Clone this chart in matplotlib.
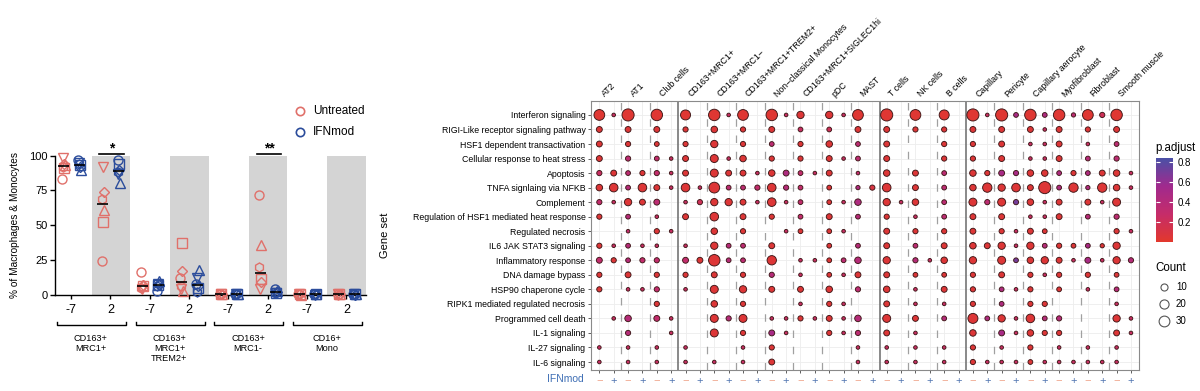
import numpy as np
import matplotlib
matplotlib.use("Agg")
import matplotlib.pyplot as plt
from matplotlib.colors import LinearSegmentedColormap, Normalize
from matplotlib.cm import ScalarMappable
from matplotlib.transforms import blended_transform_factory

plt.rcParams['font.family'] = ['Liberation Sans', 'DejaVu Sans']

W, H = 1200, 391

# ---------------- left panel data ----------------
populations = ["CD163+\nMRC1+", "CD163+\nMRC1+\nTREM2+", "CD163+\nMRC1-", "CD16+\nMono"]
days = ["-7", "2"]
donor_markers = ['o', 's', '^', 'v', 'D', 'h']
# rows: population x day (8), cols: donors
untreated = np.array([
    [83.5, 91, 93, 98, 94, 92],
    [24, 52, 61, 92, 74, 69],
    [16, 6, 7, 4, 7, 5],
    [12, 37, 3, 4, 17, 6],
    [0.5, 0.3, 0.2, 0.4, 0.6, 0.3],
    [72, 11, 36, 4, 9, 20],
    [0.3, 0.2, 0.1, 0.2, 0.3, 0.2],
    [0.3, 0.4, 0.2, 0.2, 0.3, 0.1],
])
ifnmod = np.array([
    [97, 93, 90, 95, 92, 94],
    [97, 94, 80, 87, 90, 88],
    [3, 7, 10, 8, 7, 6],
    [8, 5, 18, 12, 6, 2],
    [0.3, 0.2, 0.4, 0.3, 0.2, 0.3],
    [4, 1.5, 3, 1, 2, 1],
    [0.2, 0.3, 0.2, 0.1, 0.3, 0.2],
    [0.3, 0.2, 0.3, 0.2, 0.1, 0.2],
])
sig_positions = [1, 5]
sig_labels = ["*", "**"]

# ---------------- dot plot data ----------------
gene_sets = ["Interferon signaling", "RIGI-Like receptor signaling pathway",
             "HSF1 dependent transactivation", "Cellular response to heat stress",
             "Apoptosis", "TNFA signlaing via NFKB", "Complement",
             "Regulation of HSF1 mediated heat response", "Regulated necrosis",
             "IL6 JAK STAT3 signaling", "Inflammatory response", "DNA damage bypass",
             "HSP90 chaperone cycle", "RIPK1 mediated regulated necrosis",
             "Programmed cell death", "IL-1 signaling", "IL-27 signaling", "IL-6 signaling"]
cell_types = ["AT2", "AT1", "Club cells", "CD163+MRC1+", "CD163+MRC1\u2212",
              "CD163+MRC1+TREM2+", "Non\u2212classical Monocytes", "CD163+MRC1+SIGLEC1hi",
              "pDC", "MAST", "T cells", "NK cells", "B cells", "Capillary", "Pericyte",
              "Capillary aerocyte", "Myofibroblast", "Fibroblast", "Smooth muscle"]
ifn_labels = ["\u2212", "+"]

# columns: cell type x (untreated, IFNmod); 0 = no dot
counts = np.array([
    [30,1,40,0,35,0,25,0,35,1,30,0,35,1,11,0,11,1,30,0,40,0,30,0,25,0,40,1,40,3,35,3,35,2,30,4,35,0],
    [6,0,6,0,6,0,4,0,8,0,4,0,6,0,3,0,3,0,6,0,6,0,4,0,4,0,6,0,6,0,6,1,6,0,4,0,6,0],
    [6,0,4,0,3,0,4,0,11,0,4,0,3,0,4,0,8,0,3,0,6,0,0,0,4,0,4,0,6,0,1,1,6,0,1,0,3,0],
    [6,0,4,0,3,1,6,0,14,1,8,0,4,0,4,0,6,1,3,0,6,0,0,0,4,0,4,0,6,0,1,1,6,0,3,0,4,0],
    [4,6,3,4,4,1,6,0,14,6,6,1,8,6,3,1,6,0,1,0,8,0,6,0,3,0,8,4,6,4,8,8,3,4,3,6,8,1],
    [8,17,3,17,6,1,17,1,30,3,3,4,17,4,3,0,3,0,2,4,17,0,6,0,3,0,8,21,11,17,6,40,3,21,2,21,8,1],
    [4,1,11,6,6,0,1,4,11,11,6,1,17,1,3,0,3,1,8,0,11,1,8,0,3,0,14,4,14,4,8,1,6,0,6,1,14,0],
    [4,0,3,0,1,0,6,0,17,0,6,0,4,0,3,0,6,0,3,0,4,0,1,0,3,0,6,0,6,0,1,1,6,0,3,0,4,0],
    [0,0,1,0,4,1,0,0,8,0,4,0,0,1,3,0,3,1,0,0,6,0,4,0,4,0,6,0,4,1,6,3,0,0,0,0,4,1],
    [4,1,3,1,1,0,1,0,11,3,3,0,6,0,0,0,3,0,3,0,6,0,3,0,6,0,8,6,11,1,11,3,4,3,3,2,11,0],
    [6,4,3,4,4,0,6,6,35,3,3,0,21,0,1,1,3,3,8,0,11,0,4,1,8,0,11,0,14,3,8,11,6,1,6,1,11,4],
    [4,0,6,0,4,0,4,0,6,0,4,0,4,0,1,0,3,1,6,0,6,0,3,0,3,0,4,0,6,0,4,1,4,0,4,0,3,0],
    [4,0,1,1,4,0,1,0,14,0,11,0,6,0,6,0,8,0,4,0,8,0,1,0,6,0,4,0,3,1,4,0,3,0,1,0,3,0],
    [0,0,0,0,4,0,0,0,8,0,4,0,0,0,1,0,4,1,0,0,6,0,1,0,1,0,4,0,3,0,4,4,0,0,0,0,1,0],
    [0,1,8,0,6,1,0,0,14,4,14,0,1,1,4,1,6,1,8,0,14,0,6,0,3,0,25,3,11,1,17,3,4,0,0,0,11,1],
    [0,0,4,0,0,1,0,0,14,0,4,0,6,1,0,0,4,1,4,0,6,0,1,0,0,0,8,0,6,1,8,4,4,0,0,0,6,1],
    [1,0,1,0,1,0,1,0,0,0,1,0,4,0,0,0,0,0,1,0,1,0,1,0,1,0,4,0,1,0,4,0,1,0,1,0,1,0],
    [1,0,1,0,1,0,1,0,1,0,1,0,6,0,0,0,0,0,1,0,1,0,1,0,1,0,4,1,1,1,3,1,1,1,1,1,1,0],
])
padj = np.array([
    [.03,.25,.03,0,.03,0,.03,0,.03,.25,.03,0,.03,.25,.05,0,.05,.25,.03,0,.03,0,.03,0,.03,0,.03,.25,.03,.5,.03,.45,.03,.35,.03,.2,.03,0],
    [.05,0,.05,0,.05,0,.05,0,.05,0,.05,0,.05,0,.25,0,.2,0,.05,0,.05,0,.05,0,.05,0,.05,0,.05,0,.05,.25,.05,0,.05,0,.05,0],
    [.05,0,.05,0,.05,0,.05,0,.05,0,.05,0,.35,0,.05,0,.05,0,.35,0,.05,0,0,0,.05,0,.05,0,.05,0,.25,.25,.05,0,.25,0,.35,0],
    [.05,0,.35,0,.3,.25,.05,0,.05,.25,.05,0,.05,0,.05,0,.05,.25,.35,0,.05,0,0,0,.05,0,.05,0,.05,0,.25,.25,.05,0,.4,0,.35,0],
    [.25,.05,.35,.05,.3,.25,.05,0,.05,.05,.05,.25,.05,.45,.3,.25,.05,0,.3,0,.05,0,.05,0,.35,0,.05,.05,.5,.5,.05,.05,.45,.05,.45,.05,.05,.25],
    [.05,.05,.4,.05,.05,.25,.05,.25,.05,.35,.35,.3,.05,.4,.3,0,.05,0,.45,.1,.05,0,.05,0,.35,0,.05,.05,.05,.05,.05,.05,.45,.05,.45,.05,.05,.25],
    [.3,.25,.05,.05,.35,0,.25,.2,.05,.05,.05,.25,.05,.25,.3,0,.05,.25,.45,0,.05,.25,.05,0,.35,0,.05,.35,.05,.7,.05,.25,.05,0,.05,.25,.05,0],
    [.05,0,.4,0,.25,0,.05,0,.05,0,.05,0,.05,0,.3,0,.05,0,.4,0,.05,0,.25,0,.35,0,.05,0,.05,0,.25,.25,.05,0,.4,0,.35,0],
    [0,0,.3,0,.05,.25,0,0,.05,0,.05,0,0,.25,.05,0,.05,.25,0,0,.05,0,.05,0,.05,0,.05,0,.05,.25,.05,.05,0,0,0,0,.05,.25],
    [.05,.25,.4,.25,.25,0,.25,0,.05,.4,.35,0,.05,0,0,0,.05,0,.4,0,.05,0,.35,0,.05,0,.05,.05,.05,.25,.05,.4,.05,.05,.5,.05,.05,0],
    [.3,.05,.4,.3,.3,0,.3,.05,.05,.4,.35,0,.05,0,.25,.25,.05,.35,.4,0,.05,0,.4,.25,.05,0,.05,0,.05,.7,.05,.05,.05,.25,.5,.25,.05,.4],
    [.05,0,.05,0,.05,0,.05,0,.05,0,.05,0,.4,0,.25,0,.05,.25,.05,0,.05,0,.05,0,.05,0,.05,0,.05,0,.05,.25,.05,0,.05,0,.05,0],
    [.05,0,.25,.25,.3,0,.25,0,.05,0,.05,0,.05,0,.05,0,.05,0,.35,0,.05,0,.25,0,.05,0,.05,0,.45,.25,.05,0,.05,0,.25,0,.4,0],
    [0,0,0,0,.05,0,0,0,.05,0,.05,0,0,0,.25,0,.05,.25,0,0,.05,0,.25,0,.25,0,.05,0,.45,0,.05,.05,0,0,0,0,.25,0],
    [0,.25,.4,0,.3,.25,0,0,.05,.4,.05,0,.25,.25,.05,.25,.05,.25,.4,0,.05,0,.05,0,.4,0,.05,.45,.05,.25,.05,.4,.4,0,0,0,.05,.25],
    [0,0,.4,0,0,.25,0,0,.05,0,.05,0,.5,.25,0,0,.05,.25,.35,0,.05,0,.25,0,0,0,.05,0,.5,.25,.05,.05,.05,0,0,0,.05,.25],
    [.25,0,.25,0,.25,0,.25,0,0,0,.25,0,.05,0,0,0,0,0,.25,0,.25,0,.25,0,.25,0,.05,0,.25,0,.05,0,.25,0,.25,0,.25,0],
    [.25,0,.25,0,.25,0,.25,0,.25,0,.25,0,.05,0,0,0,0,0,.25,0,.25,0,.25,0,.25,0,.05,.25,.25,.25,.05,.25,.25,.25,.25,.25,.25,0],
])
solid_breaks = [2, 9, 12]   # cell type index after which a solid separator is drawn
legend_counts = [10, 20, 30]

RED = '#E0706A'
BLUE = '#2B4C9B'


def dot_size(c):
    d_px = 2.0 + 1.6 * np.sqrt(c)
    return (d_px * 0.72) ** 2


cmap = LinearSegmentedColormap.from_list('padj', ['#E2382D', '#C52C6A', '#A02A8E', '#4A50A6'])
norm = Normalize(vmin=0.003, vmax=0.837)

fig = plt.figure(figsize=(W / 100, H / 100), dpi=100)

# ================= left panel =================
ax1 = fig.add_axes([55 / W, 1 - 294.7 / H, 311 / W, 139 / H])
n_pos = len(populations) * len(days)
pos = np.arange(n_pos)
for i in pos[1::2]:
    ax1.axvspan(i - 0.48, i + 0.5, color='#D4D4D4', lw=0, zorder=0)

jitter = [-0.03, 0.01, 0.03, -0.01, 0.02, -0.02]
for vals, off, col in [(untreated, -0.19, RED), (ifnmod, 0.21, BLUE)]:
    for d, m in enumerate(donor_markers):
        ax1.plot(pos + off + jitter[d], vals[:, d], ls='none', marker=m, mfc='none', mec=col,
                 ms=5.6 if m == 'D' else 6.5, mew=1.0, clip_on=False, zorder=3)
    med = np.median(vals, axis=1)
    ax1.hlines(med, pos + off - 0.14, pos + off + 0.14, color='black', lw=1.2, zorder=4)

for p, lab in zip(sig_positions, sig_labels):
    ax1.plot([p - 0.28, p + 0.35], [101.3, 101.3], color='black', lw=1.2, clip_on=False)
    ax1.text(p + 0.04, 100.5, lab, ha='center', va='bottom', fontsize=10, fontweight='bold')

ax1.set_xlim(-0.41, 7.5)
ax1.set_ylim(0, 100)
ax1.set_yticks([0, 25, 50, 75, 100])
ax1.set_xticks(pos)
ax1.set_xticklabels(days * len(populations), fontsize=9)
ax1.tick_params(axis='y', labelsize=8, length=3.5, width=1, pad=1.5)
ax1.tick_params(axis='x', length=3, width=1, pad=4)
for s in ['top', 'right']:
    ax1.spines[s].set_visible(False)
for s in ['left', 'bottom']:
    ax1.spines[s].set_linewidth(1)
ax1.set_ylabel('% of Macrophages & Monocytes', fontsize=7.3)
ax1.yaxis.set_label_coords((20 - 55) / 311, 0.5)

tr = blended_transform_factory(ax1.transData, ax1.transAxes)
for g, name in enumerate(populations):
    x0, x1 = 2 * g - 0.36, 2 * g + 1.4
    ax1.plot([x0, x0, x1, x1], [-0.198, -0.218, -0.218, -0.198], color='black', lw=1.0,
             transform=tr, clip_on=False)
    ax1.text(2 * g + 0.5, -0.285, name, ha='center', va='top', fontsize=6.6,
             transform=tr, linespacing=1.1)

# ================= dot plot =================
x0p, x1p, y0p, y1p = 591, 1139.3, 100.7, 370
ax2 = fig.add_axes([x0p / W, 1 - y1p / H, (x1p - x0p) / W, (y1p - y0p) / H])
rows, cols = np.nonzero(counts)
ax2.scatter(cols, rows, s=dot_size(counts[rows, cols]), c=padj[rows, cols], cmap=cmap, norm=norm,
            edgecolors='#3d1616', linewidths=0.65, zorder=3)
n_cols = counts.shape[1]
ax2.set_xlim(-0.58, n_cols - 1 + 0.58)
ax2.set_ylim(len(gene_sets) - 1 + 0.55, -0.98)
ax2.set_yticks(range(len(gene_sets)))
ax2.set_yticklabels(gene_sets, fontsize=6.3)
ax2.set_xticks(range(n_cols))
ax2.set_xticklabels(ifn_labels * len(cell_types), fontsize=8)
for k, lbl in enumerate(ax2.get_xticklabels()):
    lbl.set_color('#F0A68C' if k % 2 == 0 else '#4F74B0')
ax2.tick_params(axis='both', length=2.5, width=0.6, color='#444444', pad=1.5)
ax2.grid(color='#EDEDED', lw=0.6)
ax2.set_axisbelow(True)
for s in ax2.spines.values():
    s.set_color('#8A8A8A')
    s.set_linewidth(0.8)

for k in range(len(cell_types) - 1):
    xb = 2 * k + 1.5
    if k in solid_breaks:
        ax2.axvline(xb, color='#6A6A6A', lw=1.1, zorder=2)
    else:
        ax2.axvline(xb, color='#A0A0A0', lw=0.9, dashes=(6, 7), zorder=2)

trt = blended_transform_factory(ax2.transData, ax2.transAxes)
for k, name in enumerate(cell_types):
    ax2.text(2 * k + 0.5, 1.008, name, rotation=45, ha='left', va='bottom',
             rotation_mode='anchor', fontsize=6.3, transform=trt)

ax2.set_ylabel('Gene set', fontsize=8)
ax2.yaxis.set_label_coords((390 - x0p) / (x1p - x0p), 0.5)
ax2.text((584 - x0p) / (x1p - x0p), -0.032, 'IFNmod', ha='right', va='center', fontsize=7.5,
         color='#3F6FB5', transform=ax2.transAxes)

# ---- colour bar ----
cax = fig.add_axes([1156 / W, 1 - 241.7 / H, 17 / W, 83.7 / H])
cb = fig.colorbar(ScalarMappable(norm=norm, cmap=cmap), cax=cax)
cb.outline.set_visible(False)
cb.set_ticks([0.2, 0.4, 0.6, 0.8])
cax.tick_params(left=True, right=True, labelleft=False, labelright=True, direction='in',
                length=3, width=0.8, color='white', labelsize=7, pad=3)
fig.text(1155 / W, 1 - 148 / H, 'p.adjust', fontsize=8.3, va='center', ha='left')

# ---- overlay for legends ----
ov = fig.add_axes([0, 0, 1, 1])
ov.set_xlim(0, W)
ov.set_ylim(H, 0)
ov.axis('off')
ov.text(1155, 268, 'Count', fontsize=8.3, va='center', ha='left')
for j, c in enumerate(legend_counts):
    yy = 286.7 + 17 * j
    ov.scatter([1164], [yy], s=dot_size(c), facecolors='white', edgecolors='#555555', linewidths=0.8)
    ov.text(1176, yy, str(c), fontsize=7, va='center', ha='left')

for j, (lab, col) in enumerate([('Untreated', RED), ('IFNmod', BLUE)]):
    yy = 111 + 21 * j
    ov.plot([300], [yy], marker='o', mfc='none', mec=col, ms=6, mew=1.2)
    ov.text(313, yy, lab, fontsize=8.5, va='center', ha='left')

fig.savefig('out.png', dpi=100)
